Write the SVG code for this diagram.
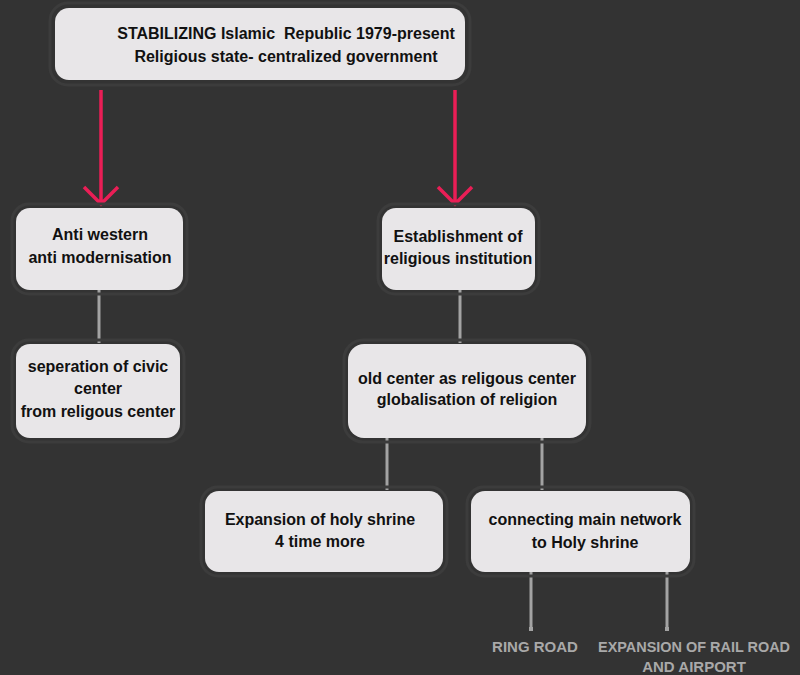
<svg xmlns="http://www.w3.org/2000/svg" width="800" height="675" viewBox="0 0 800 675">
<style>
.box{fill:#e8e6e8;}
.halo{fill:none;stroke:#3c3c3c;stroke-width:3;}
.t{font-family:"Liberation Sans",Arial,sans-serif;font-weight:bold;font-size:16px;fill:#111;text-anchor:middle;}
.lbl{font-family:"Liberation Sans",Arial,sans-serif;font-weight:bold;font-size:15px;fill:#a9a9a9;text-anchor:middle;}
.red{stroke:#ea1e56;stroke-width:3.5;fill:none;}
.gray{stroke:#a3a3a3;stroke-width:3;fill:none;}
</style>
<rect width="800" height="675" fill="#333333"/>
<g id="connectors">
<path class="red" d="M101,90 V204 M84,187 L101,204 L118,187"/>
<path class="red" d="M455,90 V204 M438,187 L455,204 L472,187"/>
<line class="gray" x1="99" y1="290" x2="99" y2="343"/>
<line class="gray" x1="460" y1="290" x2="460" y2="343"/>
<line class="gray" x1="387" y1="438" x2="387" y2="490"/>
<line class="gray" x1="542" y1="438" x2="542" y2="490"/>
<line class="gray" x1="531" y1="572" x2="531" y2="630"/>
<line class="gray" x1="667" y1="572" x2="667" y2="630"/>
<rect x="529" y="627" width="4" height="4" fill="#a3a3a3"/>
<rect x="665" y="627" width="4" height="4" fill="#a3a3a3"/>
</g>
<g id="top">
<rect class="halo" x="50" y="3" width="420" height="82" rx="18"/>
<rect class="box" x="55" y="8" width="410" height="72" rx="14"/>
<text class="t" x="286" y="39" xml:space="preserve">STABILIZING Islamic  Republic 1979-present</text>
<text class="t" x="286" y="62">Religious state- centralized government</text>
</g>
<g id="anti">
<rect class="halo" x="12" y="204" width="175" height="90" rx="17"/>
<rect class="box" x="16" y="208" width="167" height="82" rx="14"/>
<text class="t" x="100" y="240">Anti western</text>
<text class="t" x="100" y="263">anti modernisation</text>
</g>
<g id="seperation">
<rect class="halo" x="12" y="340" width="172" height="102" rx="17"/>
<rect class="box" x="16" y="344" width="164" height="94" rx="14"/>
<text class="t" x="98" y="372">seperation of civic</text>
<text class="t" x="98" y="394">center</text>
<text class="t" x="98" y="417">from religous center</text>
</g>
<g id="establishment">
<rect class="halo" x="378" y="204" width="161" height="90" rx="17"/>
<rect class="box" x="382" y="208" width="153" height="82" rx="14"/>
<text class="t" x="458" y="242">Establishment of</text>
<text class="t" x="458" y="264">religious institution</text>
</g>
<g id="oldcenter">
<rect class="halo" x="344" y="340" width="246" height="102" rx="19"/>
<rect class="box" x="348" y="344" width="238" height="94" rx="16"/>
<text class="t" x="467" y="384">old center as religous center</text>
<text class="t" x="467" y="405">globalisation of religion</text>
</g>
<g id="expansion">
<rect class="halo" x="201" y="487" width="246" height="89" rx="17"/>
<rect class="box" x="205" y="491" width="238" height="81" rx="14"/>
<text class="t" x="320" y="525">Expansion of holy shrine</text>
<text class="t" x="320" y="547">4 time more</text>
</g>
<g id="connecting">
<rect class="halo" x="467" y="487" width="227" height="89" rx="17"/>
<rect class="box" x="471" y="491" width="219" height="81" rx="14"/>
<text class="t" x="585" y="525">connecting main network</text>
<text class="t" x="585" y="548">to Holy shrine</text>
</g>
<g id="labels">
<text class="lbl" x="535" y="652">RING ROAD</text>
<text class="lbl" x="694" y="652" textLength="192" lengthAdjust="spacingAndGlyphs">EXPANSION OF RAIL ROAD</text>
<text class="lbl" x="694" y="672">AND AIRPORT</text>
</g>
</svg>
